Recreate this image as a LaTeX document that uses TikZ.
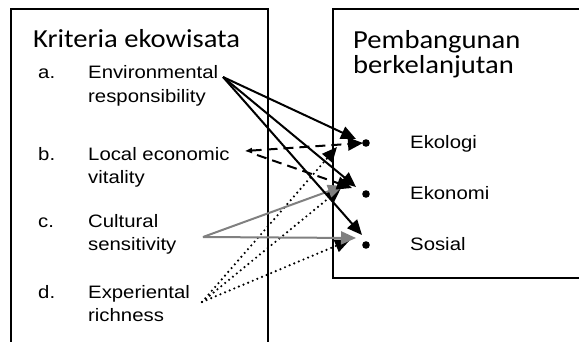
\documentclass[tikz,border=0pt]{standalone}
\usepackage{fontspec}
\setmainfont{Liberation Sans}[FakeStretch=1.13]
\newfontfamily\headfont{Carlito}[FakeStretch=1.1]
\usetikzlibrary{arrows.meta,positioning}

\begin{document}
\begin{tikzpicture}[x=1pt,y=-1pt,
    item/.style={anchor=base west,inner sep=0pt,align=left,font=\fontsize{18}{23.5}\selectfont},
    head/.style={anchor=base west,inner sep=0pt,align=left,font=\headfont\fontsize{26}{25}\selectfont},
    bigtip/.style={-{Triangle[length=15pt,width=13pt]}},
    link/.style={line width=2pt,bigtip},
    dots/.style={line width=2.4pt,line cap=round,dash pattern=on 0pt off 5pt},
    dashes/.style={dash pattern=on 10pt off 6pt}]
  \useasboundingbox (0,0) rectangle (579,341);
  % kotak kiri dan kanan
  \draw[line width=1.5pt] (11,345) -- (11,9) -- (268,9) -- (268,345);
  \draw[line width=1.5pt] (590,278) -- (333,278) -- (333,9) -- (590,9);
  \node[head] (kriteria) at (33,47) {Kriteria ekowisata};
  \node[head] (pemb) at (353,73) {Pembangunan\\berkelanjutan};
  % kriteria a-d (anchor di baris terakhir)
  \node[item] (la) at (38,78) {a.};
  \node[item] (ta) at (88,102) {Environmental\\responsibility};
  \node[item] (lb) at (38,160) {b.};
  \node[item] (tb) at (88,183.5) {Local economic\\vitality};
  \node[item] (lc) at (38,227) {c.};
  \node[item] (tc) at (88,250.5) {Cultural\\sensitivity};
  \node[item] (ld) at (38,298) {d.};
  \node[item] (td) at (88,321.5) {Experiental\\richness};
  % tiga pilar
  \foreach \nm/\txt/\yy in {eko/Ekologi/148,ekn/Ekonomi/199,sos/Sosial/250}{
    \fill (366,\yy-5) circle (3.8pt);
    \node[item] (\nm) at (410,\yy) {\txt};
  }
  % ujung-ujung panah
  \coordinate (srcA) at (223,77);
  \coordinate (srcB) at (245,151);
  \coordinate (srcBb) at (257,155);
  \coordinate (srcC) at (203,237);
  \coordinate (srcD) at (202,302);
  \coordinate (ekoA) at (356,139);
  \coordinate (ekoB) at (363,143);
  \coordinate (ekoD) at (337,147);
  \coordinate (eknA) at (356,187);
  \coordinate (eknB) at (352,188);
  \coordinate (eknC) at (343,186);
  \coordinate (eknD) at (341,188);
  \coordinate (sosA) at (362,235);
  \coordinate (sosC) at (356,238);
  \coordinate (sosD) at (350,240);
  % d: titik-titik
  \draw[link,dots] (srcD) -- (ekoD);
  \draw[link,dots] (srcD) -- (eknD);
  \draw[link,dots] (srcD) -- (sosD);
  % c: abu-abu
  \draw[link,gray] (srcC) -- (eknC);
  \draw[link,gray] (srcC) -- (sosC);
  % b: putus-putus
  \draw[line width=2pt,dashes,{Triangle[length=7pt,width=5pt]}-{Triangle[length=15pt,width=13pt]}] (srcB) -- (ekoB);
  \draw[link,dashes] (srcBb) -- (eknB);
  % a: hitam
  \draw[link] (srcA) -- (ekoA);
  \draw[link] (srcA) -- (eknA);
  \draw[link] (srcA) -- (sosA);
\end{tikzpicture}
\end{document}
